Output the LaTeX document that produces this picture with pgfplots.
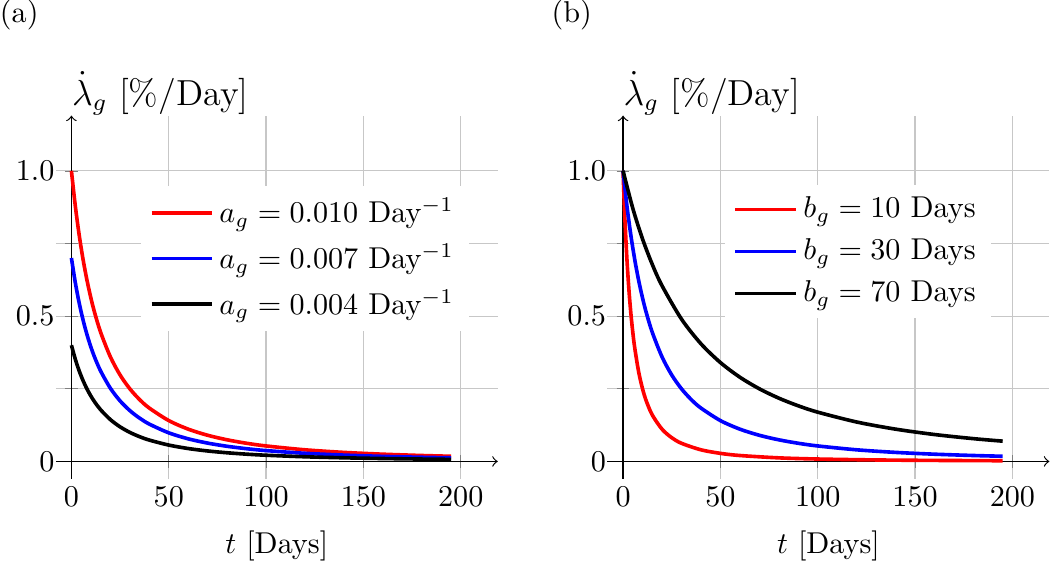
\documentclass[border=0pt]{standalone}
\usepackage{pgfplots}
\pgfplotsset{compat=1.18}
\pgfplotsset{legend image code/.code={\draw[mark repeat=2,mark phase=2,#1] plot coordinates {(0cm,0cm) (0.35cm,0cm) (0.7cm,0cm)};}}
\pgfplotsset{
 myax/.style={
  scale only axis, width=146.6pt, height=120.5pt,
  axis lines=middle, axis line style={->, thin},
  xmin=-8, xmax=219, ymin=-0.06, ymax=1.19,
  xtick={0,50,100,150,200},
  ytick={0,0.25,0.5,0.75,1}, yticklabels={0,,0.5,,1.0},
  hide obscured x ticks=false, hide obscured y ticks=false,
  xticklabel style={yshift=-3pt},
  grid=major, grid style={black!22, thin},
  clip=false,
  xlabel={$t$ [Days]}, ylabel={$\dot{\lambda}_g$\ [\%/Day]},
  xlabel style={at={(axis description cs:0.5,-0.206)}, anchor=base},
  ylabel style={at={(axis description cs:0.0354,1.028)}, anchor=base west, inner sep=0pt, font=\large},
  legend cell align=left,
  legend style={draw=none, fill=white, row sep=1.5pt},
  every axis plot/.append style={line width=1.2pt, smooth},
 }
}
\begin{document}
\begin{tikzpicture}
\begin{axis}[myax, legend style={at={(axis cs:204.5,0.949)}, anchor=north east}]
\addplot[red] coordinates {(0,1) (2,0.8789) (4,0.7785) (6,0.6944) (8,0.6233) (10,0.5625) (12,0.5102) (15,0.4444) (20,0.36) (25,0.2975) (30,0.25) (35,0.2130) (40,0.1837) (50,0.1406) (60,0.1111) (70,0.09) (80,0.0744) (90,0.0625) (100,0.0533) (120,0.04) (140,0.0311) (160,0.0249) (180,0.0204) (195,0.0178)};
\addlegendentry{$a_g = 0.010$ Day$^{-1}$}
\addplot[blue] coordinates {(0,0.7) (2,0.6152) (4,0.5450) (6,0.4861) (8,0.4363) (10,0.3938) (12,0.3571) (15,0.3111) (20,0.252) (25,0.2083) (30,0.175) (35,0.1491) (40,0.1286) (50,0.0984) (60,0.0778) (70,0.063) (80,0.0521) (90,0.0438) (100,0.0373) (120,0.028) (140,0.0218) (160,0.0174) (180,0.0143) (195,0.0124)};
\addlegendentry{$a_g = 0.007$ Day$^{-1}$}
\addplot[black] coordinates {(0,0.4) (2,0.3516) (4,0.3114) (6,0.2778) (8,0.2493) (10,0.225) (12,0.2041) (15,0.1778) (20,0.144) (25,0.119) (30,0.1) (35,0.0852) (40,0.0735) (50,0.0563) (60,0.0444) (70,0.036) (80,0.0298) (90,0.025) (100,0.0213) (120,0.016) (140,0.0125) (160,0.0100) (180,0.0082) (195,0.0071)};
\addlegendentry{$a_g = 0.004$ Day$^{-1}$}
\node[inner sep=0pt, anchor=north west] at (axis cs:-37,1.59) {(a)};
\end{axis}
\begin{axis}[myax, at={(183pt,0pt)}, legend style={at={(axis cs:189.2,0.955)}, anchor=north east}]
\addplot[red] coordinates {(0,1) (0.5,0.907) (1,0.8264) (2,0.6944) (3,0.5917) (4,0.5102) (5,0.4444) (6,0.3906) (8,0.3086) (10,0.25) (12,0.2066) (15,0.16) (20,0.1111) (25,0.0816) (30,0.0625) (40,0.04) (50,0.0278) (60,0.0204) (80,0.0123) (100,0.0083) (130,0.0051) (160,0.0035) (195,0.0024)};
\addlegendentry{$b_g = 10$ Days}
\addplot[blue] coordinates {(0,1) (2,0.8789) (4,0.7785) (6,0.6944) (8,0.6233) (10,0.5625) (12,0.5102) (15,0.4444) (20,0.36) (25,0.2975) (30,0.25) (35,0.2130) (40,0.1837) (50,0.1406) (60,0.1111) (70,0.09) (80,0.0744) (90,0.0625) (100,0.0533) (120,0.04) (140,0.0311) (160,0.0249) (180,0.0204) (195,0.0178)};
\addlegendentry{$b_g = 30$ Days}
\addplot[black] coordinates {(0,1) (5,0.8711) (10,0.7656) (15,0.6782) (20,0.6049) (30,0.49) (40,0.4050) (50,0.3403) (60,0.2899) (70,0.25) (80,0.2178) (90,0.1914) (100,0.1696) (120,0.1357) (140,0.1111) (160,0.0926) (180,0.0784) (195,0.0698)};
\addlegendentry{$b_g = 70$ Days}
\node[inner sep=0pt, anchor=north west] at (axis cs:-37,1.59) {(b)};
\end{axis}
\end{tikzpicture}
\end{document}
